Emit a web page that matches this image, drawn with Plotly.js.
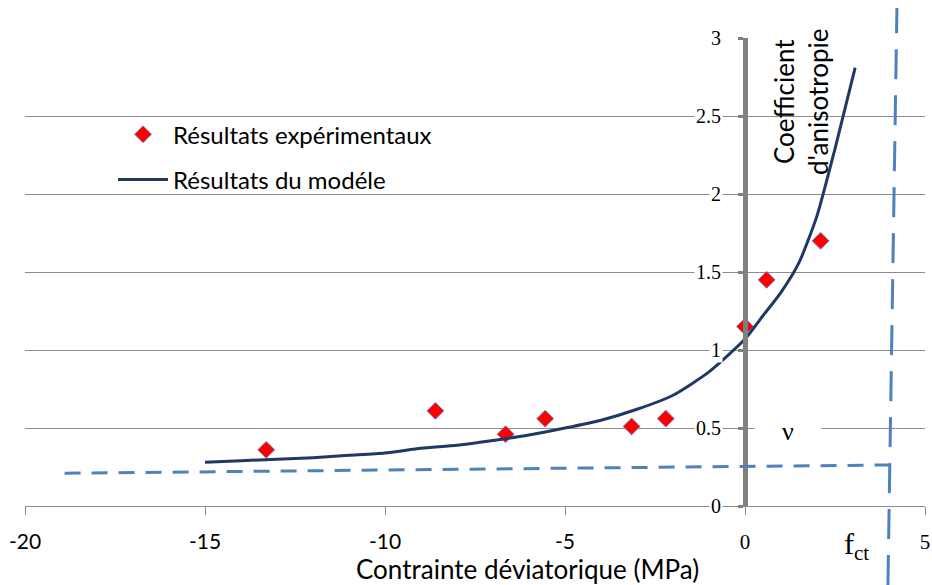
<!DOCTYPE html>
<html>
<head>
<meta charset="utf-8">
<script src="https://cdn.plot.ly/plotly-3.0.1.min.js"></script>
<style>html,body{margin:0;padding:0;background:#fff;}#chart{width:932px;height:585px;}</style>
</head>
<body>
<div id="chart"></div>
<script>
// Experimental results
const expX = [-13.3, -8.6, -6.65, -5.55, -3.15, -2.2, 0.0, 0.6, 2.1];
const expY = [0.36, 0.61, 0.46, 0.56, 0.51, 0.56, 1.15, 1.45, 1.70];
// Model results
const modX = [-15, -14, -13, -12, -11, -10, -9, -8, -7, -6, -5, -4, -3, -2, -1, 0, 0.5, 1, 1.5, 2, 2.5, 3.06];
const modY = [0.28, 0.29, 0.30, 0.31, 0.325, 0.34, 0.37, 0.39, 0.42, 0.455, 0.50, 0.55, 0.62, 0.71, 0.86, 1.07, 1.22, 1.37, 1.56, 1.86, 2.29, 2.81];
// Poisson-ratio asymptote (dashed) and tensile strength f_ct
const nuLineX = [-18.9, 4.0];
const nuLineY = [0.21, 0.263];
const fctX = [3.97, 4.22];
// Tick labels
const xTickVals = [-20, -15, -10, -5, 0, 5];
const xTickText = ['-20', '-15', '-10', '-5', '0', '5'];
const xSerifTicks = ['0', '5'];
const yTickVals = [0, 0.5, 1, 1.5, 2, 2.5, 3];
const yTickText = ['0', '0.5', '1', '1.5', '2', '2.5', '3'];
const legendNames = ['Résultats expérimentaux', 'Résultats du modéle'];

const SANS = 'Lato, "Open Sans", sans-serif';
const SERIF = '"Liberation Serif", "DejaVu Serif", serif';

const traces = [
  {
    type: 'scatter', mode: 'markers', x: expX, y: expY, name: legendNames[0],
    legendgroup: 'a',
    marker: {symbol: 'diamond', size: 13, color: '#FF0000', line: {color: '#8080C0', width: 1}}
  },
  {
    type: 'scatter', mode: 'lines', x: modX, y: modY, name: legendNames[1],
    legendgroup: 'b',
    line: {color: '#1F3864', width: 3, shape: 'spline', smoothing: 0.6}
  }
];

const annotations = yTickVals.map((v, i) => ({
  xref: 'x', yref: 'y', x: 0, y: v, xanchor: 'right', yanchor: 'middle',
  xshift: -22, showarrow: false, text: yTickText[i], bgcolor: '#ffffff', borderpad: 1,
  font: {family: SERIF, size: 20, color: '#000'}
}));
annotations.push(
  {xref: 'x', yref: 'y', x: 1.19, y: 0.5, yshift: -3, xanchor: 'center', yanchor: 'middle',
   showarrow: false, text: 'ν', width: 64, bgcolor: '#ffffff',
   font: {family: SERIF, size: 26, color: '#000'}},
  {xref: 'x', yref: 'y', x: 1.556, y: 2.59, xanchor: 'center', yanchor: 'middle',
   showarrow: false, textangle: -90,
   text: 'Coefficient<br>d\'anisotropie', font: {family: SANS, size: 26, color: '#000'}},
  {xref: 'x', yref: 'paper', x: 3.11, y: -0.0855, xanchor: 'center', yanchor: 'middle',
   showarrow: false, text: 'f<sub>ct</sub>',
   font: {family: SERIF, size: 30, color: '#000'}},
  {xref: 'paper', yref: 'paper', x: 0.558, y: -0.134, xanchor: 'center', yanchor: 'middle',
   showarrow: false,
   text: 'Contrainte déviatorique (MPa)', font: {family: SANS, size: 26, color: '#000'}}
);

const layout = {
  width: 932, height: 585,
  margin: {l: 25, r: 7, t: 38, b: 79},
  paper_bgcolor: '#ffffff', plot_bgcolor: '#ffffff',
  showlegend: true,
  legend: {
    x: 0.0978, y: 0.8415, xanchor: 'left', yanchor: 'top',
    bgcolor: 'rgba(0,0,0,0)', traceorder: 'grouped', tracegroupgap: 11,
    itemwidth: 50,
    font: {family: SANS, size: 24, color: '#000'}
  },
  xaxis: {
    range: [-20, 5], showgrid: false, zeroline: false,
    showline: true, linecolor: '#8c8c8c', linewidth: 1,
    ticks: 'outside', ticklen: 8, tickcolor: '#8c8c8c', tickwidth: 1,
    tickvals: xTickVals,
    ticktext: xTickText.map(t => xSerifTicks.includes(t) ? '<span style="font-family:Liberation Serif">' + t + '</span>' : t),
    tickfont: {family: SANS, size: 21, color: '#000'},
    ticklabelstandoff: 9
  },
  yaxis: {
    range: [0, 3], anchor: 'free', position: 0.8,
    showgrid: true, gridcolor: '#8c8c8c', gridwidth: 1, zeroline: false,
    showline: true, linecolor: '#808080', linewidth: 5,
    ticks: 'outside', ticklen: 5, tickwidth: 3, tickcolor: '#808080',
    tickvals: yTickVals, showticklabels: false
  },
  shapes: [
    {type: 'rect', layer: 'between', xref: 'paper', yref: 'paper',
     x0: 0.0444, x1: 0.5244, y0: 0.632, y1: 0.8675, fillcolor: '#ffffff', line: {width: 0}},
    {type: 'line', layer: 'above', xref: 'x', yref: 'y',
     x0: nuLineX[0], y0: nuLineY[0], x1: nuLineX[1], y1: nuLineY[1],
     line: {color: '#4F81BD', width: 3, dash: '16px,11px'}},
    {type: 'line', layer: 'above', xref: 'x', yref: 'paper',
     x0: fctX[0], y0: -0.169, x1: fctX[1], y1: 1.064,
     line: {color: '#4F81BD', width: 3, dash: '30px,16px'}}
  ],
  annotations: annotations
};

Plotly.newPlot('chart', traces, layout, {displayModeBar: false, staticPlot: true});
</script>
</body>
</html>
